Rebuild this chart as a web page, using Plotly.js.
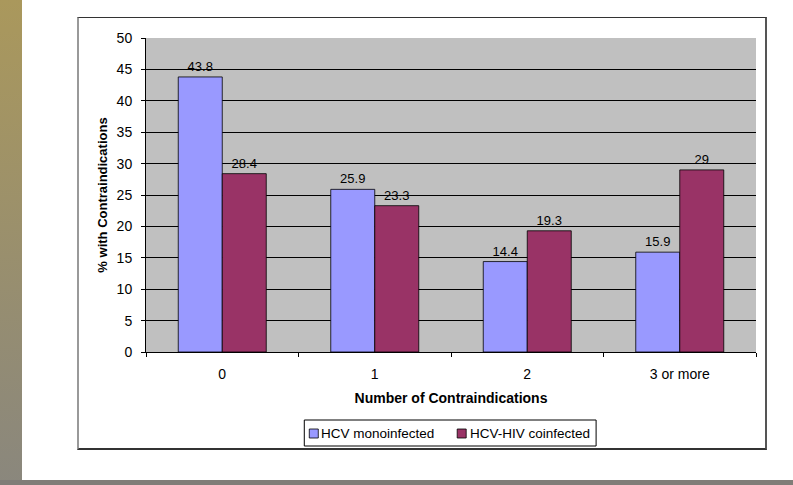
<!DOCTYPE html>
<html>
<head>
<meta charset="utf-8">
<script src="https://cdn.plot.ly/plotly-3.0.1.min.js"></script>
<style>
  html, body { margin:0; padding:0; background:#fff; width:793px; height:485px; overflow:hidden; position:relative; }
  #strip { position:absolute; left:0; top:0; width:22px; height:485px; background:linear-gradient(#aa985c, #8a877d); }
  #bottom { position:absolute; left:0; top:480px; width:793px; height:5px; background:#807d78; }
  #frame { position:absolute; left:77px; top:17px; width:686px; height:430px; border-top:1px solid #333; border-right:2px solid #555; border-bottom:2px solid #333; border-left:2px solid #999; }
  #chart { position:absolute; left:0; top:0; width:793px; height:485px; }
</style>
</head>
<body>
<div id="strip"></div>
<div id="bottom"></div>
<div id="frame"></div>
<div id="chart"></div>
<script>
const categories = ["0", "1", "2", "3 or more"];
const monoinfected = [43.8, 25.9, 14.4, 15.9];
const coinfected = [28.4, 23.3, 19.3, 29];
const seriesNames = ["HCV monoinfected", "HCV-HIV coinfected"];
const seriesColors = ["#9999ff", "#993366"];
const yTicks = [0, 5, 10, 15, 20, 25, 30, 35, 40, 45, 50];

const fam = "Liberation Sans, Arial, sans-serif";
const font14 = {family: fam, size: 14, color: "#000"};
const font13 = {family: fam, size: 13, color: "#000"};
const fontLeg = {family: fam, size: 13.5, color: "#000"};

const traces = [monoinfected, coinfected].map((vals, i) => ({
  type: "bar", name: seriesNames[i], x: categories, y: vals,
  text: vals.map(String), textposition: "outside", cliponaxis: false,
  textfont: font13, marker: {color: seriesColors[i], line: {color: "#000", width: 0.8}}
}));

// plot area in pixels (used to place the hand-built legend box)
const L = 145.6, T = 38, W = 610.4, H = 314;
const px = v => (v - L) / W;
const py = v => (T + H - v) / H;

const shapes = [
  {type: "rect", xref: "paper", yref: "paper", x0: px(304), x1: px(596), y0: py(446), y1: py(420),
   line: {color: "#000", width: 1}, fillcolor: "#fff"},
  {type: "rect", xref: "paper", yref: "paper", x0: px(309), x1: px(318), y0: py(438), y1: py(429),
   line: {color: "#000", width: 0.8}, fillcolor: seriesColors[0]},
  {type: "rect", xref: "paper", yref: "paper", x0: px(457), x1: px(466), y0: py(438), y1: py(429),
   line: {color: "#000", width: 0.8}, fillcolor: seriesColors[1]}
];
const annotations = [
  {xref: "paper", yref: "paper", x: px(319), y: py(433.5), xanchor: "left", yanchor: "middle",
   text: seriesNames[0], showarrow: false, font: fontLeg},
  {xref: "paper", yref: "paper", x: px(468), y: py(433.5), xanchor: "left", yanchor: "middle",
   text: seriesNames[1], showarrow: false, font: fontLeg}
];

const layout = {
  width: 793, height: 485,
  margin: {l: L, r: 793 - L - W, t: T, b: 485 - T - H},
  paper_bgcolor: "rgba(0,0,0,0)",
  plot_bgcolor: "#c0c0c0",
  font: font14,
  barmode: "group",
  bargap: 0.423,
  bargroupgap: 0,
  showlegend: false,
  shapes: shapes,
  annotations: annotations,
  xaxis: {type: "category", tickson: "boundaries", ticks: "outside", ticklen: 4,
          tickcolor: "#000", showline: true, linecolor: "#000", linewidth: 1,
          showgrid: false, ticklabelstandoff: 9, tickfont: font14,
          title: {text: "<b>Number of Contraindications</b>", font: font14, standoff: 12}},
  yaxis: {range: [0, 50], tickvals: yTicks, ticks: "outside", ticklen: 4,
          tickcolor: "#000", showline: true, linecolor: "#000", linewidth: 1,
          showgrid: true, gridcolor: "#000", gridwidth: 1, zeroline: false,
          ticklabelstandoff: 6, tickfont: font14,
          title: {text: "<b>% with Contraindications</b>", font: font13, standoff: 6}}
};

Plotly.newPlot("chart", traces, layout, {displayModeBar: false, staticPlot: true});
</script>
</body>
</html>
